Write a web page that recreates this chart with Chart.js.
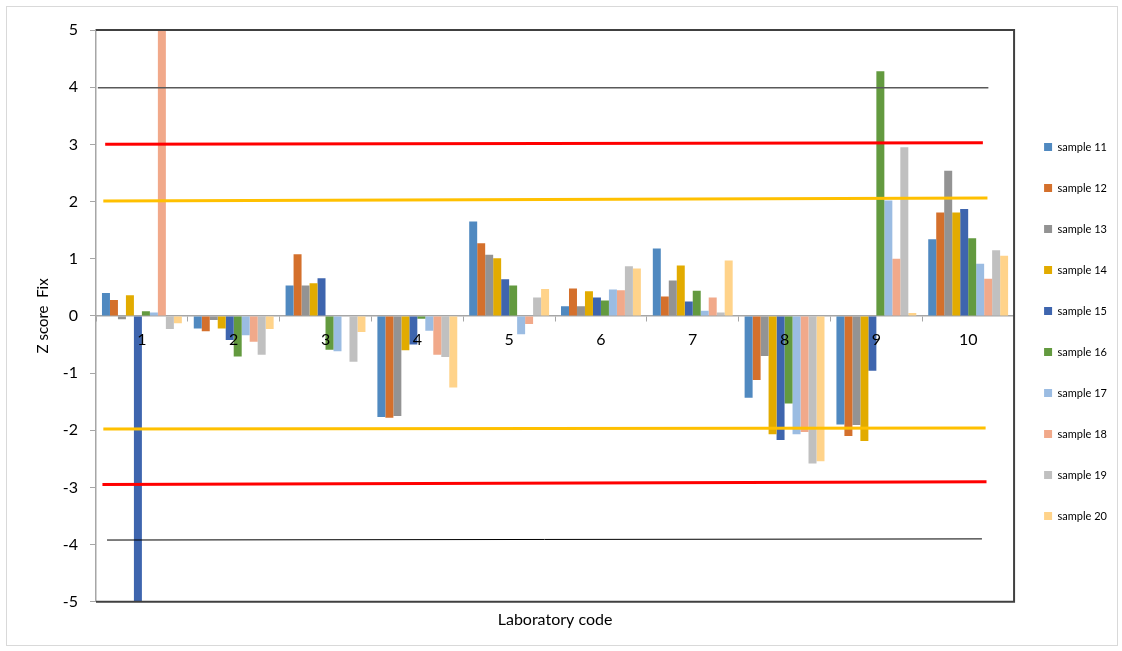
<!DOCTYPE html>
<html>
<head>
<meta charset="utf-8">
<script src="https://cdn.jsdelivr.net/npm/chart.js@4.4.1/dist/chart.umd.min.js"></script>
<style>
	body { margin: 0; background: #fff; }
	#frame {
		position: absolute;
		left: 6px;
		top: 6px;
		width: 1110px;
		height: 638px;
		border: 1px solid #d9d9d9;
	}
</style>
</head>
<body>
<div id="frame"><canvas id="zscore-chart"></canvas></div>
<script>
// laboratory codes on the x axis
const labCodes = ["1", "2", "3", "4", "5", "6", "7", "8", "9", "10"];

// z scores per sample, one value per laboratory
const sample11 = [0.40, -0.22, 0.53, -1.77, 1.65, 0.17, 1.18, -1.43, -1.90, 1.34];
const sample12 = [0.28, -0.27, 1.08, -1.78, 1.27, 0.48, 0.34, -1.12, -2.10, 1.81];
const sample13 = [-0.06, -0.07, 0.53, -1.75, 1.07, 0.17, 0.62, -0.70, -1.91, 2.54];
const sample14 = [0.36, -0.22, 0.57, -0.60, 1.01, 0.43, 0.88, -2.07, -2.19, 1.81];
const sample15 = [-5.0, -0.42, 0.66, -0.50, 0.64, 0.32, 0.25, -2.17, -0.96, 1.87];
const sample16 = [0.08, -0.71, -0.59, -0.05, 0.53, 0.27, 0.44, -1.53, 4.28, 1.36];
const sample17 = [0.06, -0.34, -0.62, -0.26, -0.32, 0.46, 0.09, -2.07, 2.02, 0.91];
const sample18 = [5.0, -0.45, 0.0, -0.68, -0.14, 0.45, 0.32, -2.03, 1.00, 0.65];
const sample19 = [-0.23, -0.68, -0.80, -0.72, 0.32, 0.87, 0.06, -2.58, 2.95, 1.15];
const sample20 = [-0.13, -0.23, -0.28, -1.25, 0.47, 0.83, 0.97, -2.54, 0.05, 1.05];

const sampleNames = ["sample 11", "sample 12", "sample 13", "sample 14", "sample 15",
	"sample 16", "sample 17", "sample 18", "sample 19", "sample 20"];
const sampleValues = [sample11, sample12, sample13, sample14, sample15,
	sample16, sample17, sample18, sample19, sample20];

// limit lines (+4, +3, +2, -2, -3, -4); x in category-index units (-0.5 = left edge)
const limitStartX = [-0.48, -0.40, -0.42, -0.42, -0.43, -0.38];
const limitEndX = [9.22, 9.16, 9.21, 9.19, 9.20, 9.15];
const limitStartY = [3.99, 3.00, 2.01, -1.98, -2.95, -3.92];
const limitEndY = [3.99, 3.03, 2.06, -1.96, -2.90, -3.90];

const yTicks = [-5, -4, -3, -2, -1, 0, 1, 2, 3, 4, 5];

const colors = {
	bars: ["#5089c0", "#d4702c", "#939393", "#e2ab00", "#3e65ae",
		"#639a3f", "#9bbce2", "#f1a98a", "#c0c0c0", "#ffd38a"],
	limits: ["#595959", "#ff0000", "#ffc000", "#ffc000", "#ff0000", "#000000"],
	limitWidths: [1.5, 3, 3, 3, 3, 1],
	axis: "#a6a6a6",
	frame: "#404040",
};

Chart.defaults.font.family = "Lato, 'Open Sans', sans-serif";
Chart.defaults.color = "#000";

const barSets = sampleNames.map((name, i) => ({
	type: "bar",
	label: name,
	data: sampleValues[i],
	backgroundColor: colors.bars[i],
	borderWidth: 0,
	categoryPercentage: 0.87,
	barPercentage: 1.0,
}));

// same x axis as the bars (an extra x axis id would halve the bar width)
const limitSets = limitStartX.map((x0, i) => ({
	type: "line",
	label: "",
	parsing: false,
	normalized: true,
	data: [
		{ x: x0, y: limitStartY[i] },
		{ x: limitEndX[i], y: limitEndY[i] },
	],
	borderColor: colors.limits[i],
	borderWidth: colors.limitWidths[i],
	pointRadius: 0,
	fill: false,
	tension: 0,
	order: -1,
}));

// dark frame on top, right and bottom of the plot area
const plotFrame = {
	id: "plotFrame",
	afterDatasetsDraw(chart) {
		const { ctx, chartArea: a } = chart;
		ctx.save();
		ctx.strokeStyle = colors.frame;
		ctx.lineWidth = 2;
		ctx.beginPath();
		ctx.moveTo(a.left, a.top);
		ctx.lineTo(a.right, a.top);
		ctx.lineTo(a.right, a.bottom);
		ctx.lineTo(a.left, a.bottom);
		ctx.stroke();
		ctx.restore();
	},
};

new Chart(document.getElementById("zscore-chart"), {
	type: "bar",
	data: {
		labels: labCodes,
		datasets: [...barSets, ...limitSets],
	},
	plugins: [plotFrame],
	options: {
		responsive: true,
		maintainAspectRatio: false,
		animation: false,
		layout: { padding: { top: 23, left: 0, right: 0, bottom: 12 } },
		scales: {
			x: {
				type: "category",
				position: { y: 0 },
				offset: true,
				grid: {
					offset: true,
					drawOnChartArea: false,
					drawTicks: true,
					tickLength: 5,
					tickColor: colors.axis,
				},
				border: { color: colors.axis, width: 1.5 },
				// labels drawn over the bars, like the original
				ticks: { font: { size: 16 }, padding: 9, maxRotation: 0, z: 1 },
			},
			// holds only the axis title at the bottom
			xTitle: {
				type: "linear",
				axis: "x",
				position: "bottom",
				min: 0,
				max: 10,
				offset: false,
				grid: { display: false },
				ticks: { display: false },
				border: { display: false },
				title: {
					display: true,
					text: "Laboratory code",
					font: { size: 16 },
					padding: { top: 0, bottom: 4 },
				},
			},
			y: {
				min: -5,
				max: 5,
				afterBuildTicks: scale => {
					scale.ticks = yTicks.map(v => ({ value: v }));
				},
				afterFit: scale => {
					scale.width = 89;
				},
				grid: {
					drawOnChartArea: false,
					tickLength: 6,
					tickColor: colors.axis,
				},
				border: { color: colors.axis, width: 1.5 },
				ticks: { font: { size: 16 }, padding: 12 },
				title: {
					display: true,
					text: "Z score  Fix",
					font: { size: 15 },
					padding: { top: 27, bottom: 0 },
				},
			},
		},
		plugins: {
			legend: {
				position: "right",
				maxWidth: 103,
				labels: {
					boxWidth: 8,
					boxHeight: 8,
					padding: 30,
					font: { size: 11 },
					color: "#000",
					filter: item => item.text !== "",
				},
			},
			tooltip: { enabled: false },
		},
	},
});
</script>
</body>
</html>
